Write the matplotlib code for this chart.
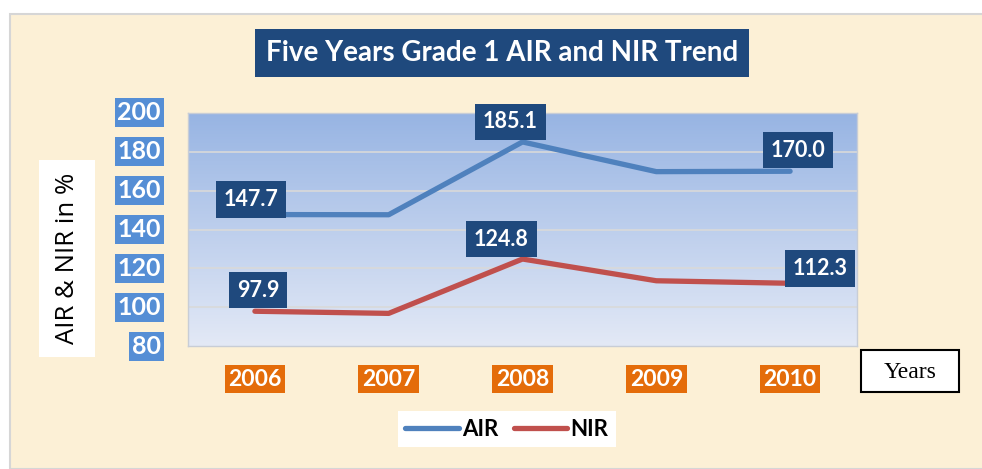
import numpy as np
import matplotlib
matplotlib.use("Agg")
import matplotlib.pyplot as plt
from matplotlib.patches import Rectangle
from matplotlib.transforms import blended_transform_factory

years = ["2006", "2007", "2008", "2009", "2010"]
air = [147.7, 147.6, 185.1, 169.8, 170.0]
nir = [97.9, 96.8, 124.8, 113.6, 112.3]
yticks = [80, 100, 120, 140, 160, 180, 200]
title = "Five Years Grade 1 AIR and NIR Trend"

W, H = 982, 469
fig = plt.figure(figsize=(W / 100, H / 100), dpi=100, facecolor="white")
plt.rcParams['font.family'] = ['Lato', 'DejaVu Sans']

def fx(px):
    return px / W

def fy(py):
    return 1 - py / H

# parchment background with light frame
fig.patches.append(Rectangle((fx(10), 0), fx(990 - 10), fy(14), transform=fig.transFigure,
                             facecolor="#FCF0D6", edgecolor="#D6D6D6", lw=1.5, zorder=-10))

ax = fig.add_axes([fx(188), fy(346), fx(857 - 188), fy(113) - fy(346)])
ax.set_zorder(2)
ax.set_facecolor("none")
x = np.arange(len(years))

# gradient plot area
grad = np.linspace(0, 1, 256).reshape(-1, 1)
top = np.array([0x97, 0xB4, 0xE3]) / 255
bot = np.array([0xE3, 0xE9, 0xF6]) / 255
img = top[None, None, :] * (1 - grad[:, :, None]) + bot[None, None, :] * grad[:, :, None]
ax.imshow(img, extent=[0, 1, 0, 1], transform=ax.transAxes, aspect="auto", zorder=0)
ax.set_xlim(-0.5, len(years) - 0.5)
ax.set_ylim(80, 200)

for yv in yticks[1:-1]:
    ax.axhline(yv, color="#D9D9D9", lw=1.2, zorder=1)
for s in ax.spines.values():
    s.set_color("#C8CDD6")
    s.set_linewidth(1)
ax.set_xticks([])
ax.set_yticks([])

l1, = ax.plot(x, air, color="#4F81BD", lw=3.8, solid_capstyle="round", zorder=3)
l2, = ax.plot(x, nir, color="#C0504D", lw=3.8, solid_capstyle="round", zorder=3)

box = dict(boxstyle="square,pad=0.36", facecolor="#1F497D", edgecolor="none")
air_off = {0: (-4, 15), 2: (-12, 20), 4: (8, 21)}
nir_off = {0: (3, 21), 2: (-21, 20), 4: (30, 15)}
for i, off in air_off.items():
    ax.annotate(f"{air[i]:.1f}", (x[i], air[i]), xytext=off, textcoords="offset pixels",
                ha="center", va="center", color="white", fontsize=15.5, fontweight="bold",
                bbox=box, zorder=5, annotation_clip=False)
for i, off in nir_off.items():
    ax.annotate(f"{nir[i]:.1f}", (x[i], nir[i]), xytext=off, textcoords="offset pixels",
                ha="center", va="center", color="white", fontsize=15.5, fontweight="bold",
                bbox=box, zorder=5, annotation_clip=False)

# y tick labels in blue boxes
tr = blended_transform_factory(fig.transFigure, ax.transData)
for yv in yticks:
    fig.text(fx(161), yv, str(yv), transform=tr, ha="right", va="center", color="white",
             fontsize=18, fontweight="bold",
             bbox=dict(boxstyle="square,pad=0.12", facecolor="#558ED5", edgecolor="none"))

# x tick labels in orange boxes
trx = blended_transform_factory(ax.transData, fig.transFigure)
for xi, lab in zip(x, years):
    fig.text(xi, fy(379), lab, transform=trx, ha="center", va="center", color="white",
             fontsize=16.5, fontweight="bold",
             bbox=dict(boxstyle="square,pad=0.16", facecolor="#E46C0A", edgecolor="none"))

# title
fig.text(fx(502), fy(53), title, ha="center", va="center", color="white", fontsize=20,
         fontweight="bold",
         bbox=dict(boxstyle="square,pad=0.4", facecolor="#1F497D", edgecolor="none"))

# y axis label
fig.patches.append(Rectangle((fx(39), fy(357)), fx(56), fy(160) - fy(357), transform=fig.transFigure,
                             facecolor="white", edgecolor="none", zorder=1))
fig.text(fx(68), fy(258), "AIR & NIR in %", rotation=90, ha="center", va="center",
         fontsize=18.5, color="black", family=["Open Sans", "DejaVu Sans"])

# Years box
fig.patches.append(Rectangle((fx(861), fy(392)), fx(98), fy(350) - fy(392), transform=fig.transFigure,
                             facecolor="white", edgecolor="black", lw=1.5, zorder=1))
fig.text(fx(910), fy(373), "Years", ha="center", va="center", fontsize=17,
         family=["Liberation Serif", "DejaVu Serif"], color="black")

# legend
leg = fig.legend([l1, l2], ["AIR", "NIR"], loc="center", bbox_to_anchor=(fx(507), fy(429)),
                 ncol=2, frameon=True, fancybox=False, handlelength=2.4, handletextpad=0.15,
                 columnspacing=0.7, prop=dict(weight="bold", size=16), borderpad=0.35)
leg.get_frame().set_facecolor("white")
leg.get_frame().set_edgecolor("none")
leg.get_frame().set_alpha(1)

fig.savefig("out.png", dpi=100, facecolor=fig.get_facecolor())
